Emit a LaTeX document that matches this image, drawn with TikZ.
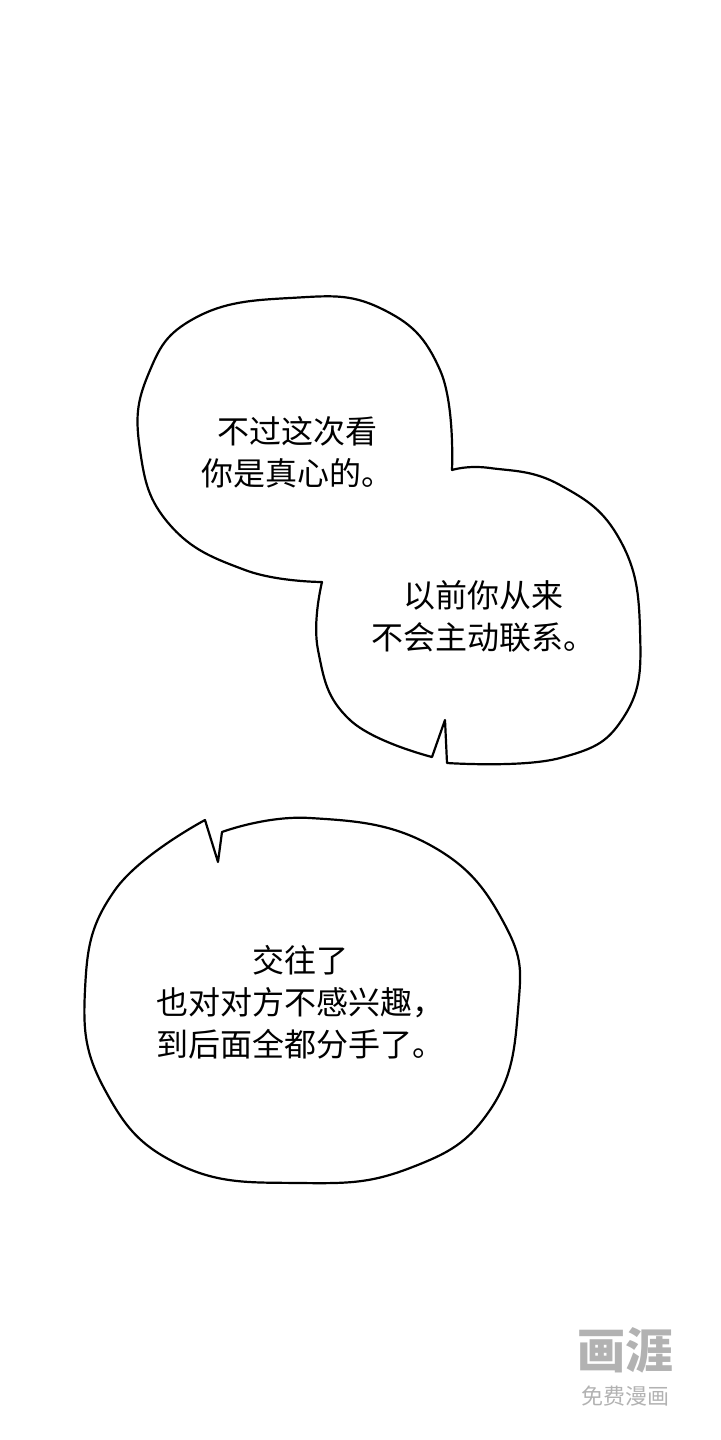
\documentclass[tikz,border=0pt]{standalone}
\usepackage{fontspec}
\newfontfamily\cjk{Noto Sans CJK SC}
\begin{document}
\begin{tikzpicture}[x=0.5pt,y=-0.5pt,
bubble/.style={draw=black,line width=1.1pt,fill=white,line join=round},
speech/.style={font={\cjk\fontsize{16}{21}\selectfont},align=center},
watermark/.style={text=black!30}]
\useasboundingbox (0,0) rectangle (720,1440);
% upper pair of bubbles
\draw[bubble] plot[smooth,tension=0.75] coordinates {(452,470) (440,370) (380,308) (290,298) (195,318) (148,375) (140,450) (170,525) (245,570) (322,582)}
  -- plot[smooth,tension=0.75] coordinates {(322,582) (318,650) (350,720) (432,757)}
  -- (445,720) -- (447,763)
  -- plot[smooth,tension=0.75] coordinates {(447,763) (560,758) (625,715) (640,630) (620,540) (560,485) (490,468) (452,470)} -- cycle;
% lower bubble
\draw[bubble] (205,820) -- (218,862) -- (222,832)
  -- plot[smooth,tension=0.75] coordinates {(222,832) (310,818) (430,845) (505,925) (518,1010) (490,1110) (410,1168) (300,1183) (180,1165) (105,1090) (85,990) (115,890) (205,820)} -- cycle;
\node[speech] (first) at (297,452) {不过这次看\\你是真心的。};
\node[speech] (second) at (483,616) {以前你从来\\不会主动联系。};
\node[speech] (third) at (300,1002) {交往了\\也对对方不感兴趣，\\到后面全都分手了。};
\node[watermark,font={\cjk\bfseries\fontsize{24}{24}\selectfont}] (logo) at (625,1350) {画涯};
\node[watermark,font={\cjk\fontsize{11}{11}\selectfont}] (slogan) at (625,1396) {免费漫画};
\end{tikzpicture}
\end{document}
